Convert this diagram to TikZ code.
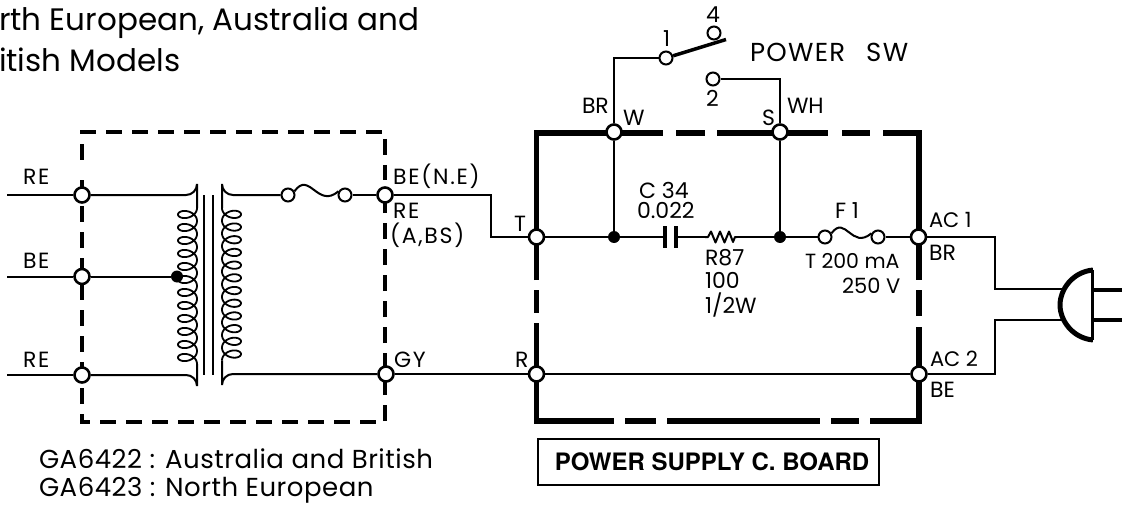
\documentclass[tikz,border=0pt]{standalone}
\usepackage{fontspec}
\setmainfont{Poppins}
\newfontfamily\boardfont[BoldFont=TeX Gyre Heros Bold]{TeX Gyre Heros}
\tikzset{
  wire/.style={line width=2pt},
  frameline/.style={line width=5.5pt},
  dashbox/.style={line width=3.5pt,dash pattern=on 16pt off 10pt},
  term/.style={circle,draw,fill=white,line width=2.6pt,minimum size=15pt,inner sep=0pt},
  smallterm/.style={circle,draw,fill=white,line width=2pt,minimum size=13pt,inner sep=0pt},
  junct/.style={circle,fill=black,minimum size=12pt,inner sep=0pt},
  lab/.style={anchor=base west,inner sep=0pt,outer sep=0pt,font=\fontsize{22}{24}\selectfont},
  widelab/.style={anchor=base west,inner sep=0pt,outer sep=0pt,font=\fontsize{22}{24}\selectfont\addfontfeature{LetterSpace=8}},
  biglab/.style={anchor=base west,inner sep=0pt,outer sep=0pt,font=\fontsize{31}{34}\selectfont},
  midlab/.style={anchor=base west,inner sep=0pt,outer sep=0pt,font=\fontsize{26}{28}\selectfont\addfontfeature{LetterSpace=2}},
}
\begin{document}
\begin{tikzpicture}[x=1pt,y=-1pt]
\useasboundingbox (0,0) rectangle (1123,505);
\clip (0,0) rectangle (1123,505);
% frames
\draw[dashbox] (82,160) -- (82,132) -- (385,132) -- (385,180);
\draw[dashbox] (82,180) -- (82,422) -- (385,422) -- (385,200);
\draw[frameline,line cap=butt] (536.5,280) -- (536.5,133) -- (663,133);
\draw[frameline] (676,133) -- (705,133);
\draw[frameline] (717,133) -- (828,133);
\draw[frameline] (842,133) -- (870,133);
\draw[frameline] (883,133) -- (919,133) -- (919,280);
\draw[frameline] (536.5,290) -- (536.5,313);
\draw[frameline] (919,290) -- (919,316);
\draw[frameline] (536.5,323) -- (536.5,421) -- (614,421);
\draw[frameline] (919,327) -- (919,421) -- (870,421);
\draw[frameline] (625,421) -- (656,421);
\draw[frameline] (667,421) -- (820,421);
\draw[frameline] (831,421) -- (859,421);
% terminals
\node[term] (l1) at (82,195) {};
\node[term] (l2) at (82,276.5) {};
\node[term] (l3) at (82,375) {};
\node[term] (r1) at (385,195) {};
\node[term] (r3) at (386,374) {};
\node[term] (T) at (536.5,237) {};
\node[term] (R) at (536.5,374) {};
\node[term] (W) at (614,132) {};
\node[term] (S) at (780,132) {};
\node[term] (AC1) at (918.5,237) {};
\node[term] (AC2) at (919,374) {};
\node[smallterm] (fa) at (288,195) {};
\node[smallterm] (fb) at (345,195) {};
\node[smallterm] (f1a) at (825,237) {};
\node[smallterm] (f1b) at (878,237) {};
\node[smallterm] (s1) at (666,58) {};
\node[smallterm] (s4) at (714,33) {};
\node[smallterm] (s2) at (713,79) {};
\node[junct] (j1) at (614,237) {};
\node[junct] (j2) at (780,237) {};
\node[junct] (j3) at (177,276.5) {};
% free ends
\coordinate (e1) at (7,195);
\coordinate (e2) at (7,276.5);
\coordinate (e3) at (7,375);
\coordinate (capL) at (665,237);
\coordinate (capR) at (676,237);
\coordinate (resL) at (705,237);
\coordinate (resR) at (737,237);
\coordinate (plugA) at (1063,289);
\coordinate (plugB) at (1063,320);
\coordinate (armEnd) at (726,39.5);
% input wires
\draw[wire] (e1) -- (l1);
\draw[wire] (e2) -- (l2);
\draw[wire] (e3) -- (l3);
\draw[wire] (l2) -- (j3);
\draw[wire] (l1) -- (186,195) arc[start angle=90,end angle=0,radius=11] -- (197,208);
\draw[wire] (l3) -- (186,375) arc[start angle=-90,end angle=0,radius=11] -- (197,364);
% coils
\draw[wire,line width=1.8pt] plot[variable=\t,domain=0:4320,samples=500] ({187.5+9.5*cos(\t)},{208+\t/360*13+6.5*sin(\t)});
\draw[wire,line width=1.8pt] plot[variable=\t,domain=0:4320,samples=500] ({231.5-9.5*cos(\t)},{208+\t/360*12.7+6.5*sin(\t)});
% core
\draw[wire] (204,195) -- (204,375);
\draw[wire] (213,195) -- (213,375);
% secondary wires
\draw[wire] (fa) -- (233,195) arc[start angle=90,end angle=180,radius=11] -- (222,208);
\draw[wire] (r3) -- (233,374) arc[start angle=-90,end angle=-180,radius=11] -- (222,360.4);
\draw[wire] (fb) -- (r1);
\draw[wire] (fa.30) .. controls +(15,-21) and +(-21,18) .. (fb.150);
\draw[wire] (r1) -- (491,195) -- (491,237) -- (T);
\draw[wire] (r3) -- (R);
% board wires
\draw[wire] (T) -- (j1) -- (capL);
\draw[wire] (capR) -- (resL);
\draw[wire,line join=round] (resL) -- (708,237) -- (711,231.5) -- (715.5,242.5) -- (720,231.5) -- (724.5,242.5) -- (729,231.5) -- (733,242) -- (735,237) -- (resR);
\draw[wire] (resR) -- (j2) -- (f1a);
\draw[wire] (f1a.30) .. controls +(14,-19) and +(-20,17) .. (f1b.150);
\draw[wire] (f1b) -- (AC1);
\draw[wire] (W) -- (j1);
\draw[wire] (S) -- (j2);
\draw[wire] (R) -- (AC2);
\draw[line width=4.5pt] (665,226) -- (665,248);
\draw[line width=4.5pt] (676,226) -- (676,248);
% switch
\draw[wire] (W) -- (614,58) -- (s1);
\draw[wire] (s2) -- (780,79) -- (S);
\draw[line width=3.5pt] (s1) -- (armEnd);
% plug
\draw[wire] (AC1) -- (995,237) -- (995,289) -- (plugA);
\draw[wire] (AC2) -- (995,374) -- (995,320) -- (plugB);
\draw[line width=5pt] (1093,270) .. controls (1072,272) and (1060,290) .. (1060,305) .. controls (1060,320) and (1072,338) .. (1093,340);
\draw[line width=3pt] (1092,270) -- (1092,340);
\coordinate (pa) at (1092,290);
\coordinate (pb) at (1092,320);
\coordinate (pae) at (1122,290);
\coordinate (pbe) at (1122,320);
\draw[line width=3.5pt] (pa) -- (pae);
\draw[line width=3.5pt] (pb) -- (pbe);
% labels
\node[widelab] (t1) at (23,185) {RE};
\node[widelab] (t2) at (23,268) {BE};
\node[widelab] (t3) at (23,367) {RE};
\node[widelab] (t4) at (393,185) {BE(N.E)};
\node[widelab] (t5) at (393,218) {RE};
\node[widelab] (t6) at (390,243) {(A,BS)};
\node[widelab] (t7) at (394,367) {GY};
\node[lab] (t8) at (514,231) {T};
\node[lab] (t9) at (515,367) {R};
\node[lab] (t10) at (582,114) {BR};
\node[lab] (t11) at (623,126) {W};
\node[lab] (t12) at (762,126) {S};
\node[lab] (t13) at (787,114) {WH};
\node[lab] (t14) at (663,47) {1};
\node[lab] (t15) at (706,23) {4};
\node[lab] (t16) at (706,107) {2};
\node[midlab,font=\fontsize{26}{28}\selectfont\addfontfeature{LetterSpace=5}] (t17) at (750,62) {POWER\hspace{21pt}SW};
\node[lab] (t18) at (639,198) {C 34};
\node[lab] (t19) at (637,218) {0.022};
\node[lab] (t20) at (835,218) {F 1};
\node[lab] (t21) at (705,265) {R87};
\node[lab] (t22) at (705,288) {100};
\node[lab] (t23) at (705,313) {1/2W};
\node[lab,font=\fontsize{20.5}{24}\selectfont] (t24) at (805,268) {T 200 mA};
\node[lab,font=\fontsize{21}{24}\selectfont] (t25) at (842,293) {250 V};
\node[lab,font=\fontsize{21}{24}\selectfont] (t26) at (929,227) {AC 1};
\node[lab] (t27) at (929,260) {BR};
\node[lab,font=\fontsize{21}{24}\selectfont] (t28) at (930,366) {AC 2};
\node[lab] (t29) at (930,397) {BE};
\node[biglab] (t30) at (-1,31) {rth European, Australia and};
\node[biglab] (t31) at (-1,72) {itish Models};
\node[midlab] (t32) at (39,468) {GA6422 : Australia and British};
\node[midlab] (t33) at (39,496.5) {GA6423 : North European};
\node[draw,line width=2pt,minimum width=341pt,minimum height=46pt,inner sep=0pt,font=\boardfont\bfseries\fontsize{24}{26}\selectfont] (board) at (708.5,462) {\hspace{7pt}POWER SUPPLY C. BOARD};
\end{tikzpicture}
\end{document}
